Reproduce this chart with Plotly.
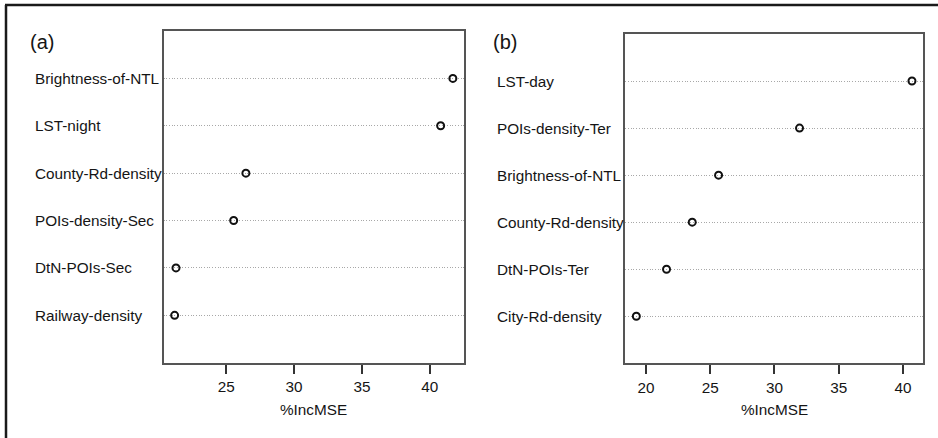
import plotly.graph_objects as go

# Panel (a)
vars_a = ["Brightness-of-NTL", "LST-night", "County-Rd-density",
          "POIs-density-Sec", "DtN-POIs-Sec", "Railway-density"]
vals_a = [41.7, 40.8, 26.45, 25.55, 21.3, 21.2]
ticks_a = [25, 30, 35, 40]

# Panel (b)
vars_b = ["LST-day", "POIs-density-Ter", "Brightness-of-NTL",
          "County-Rd-density", "DtN-POIs-Ter", "City-Rd-density"]
vals_b = [40.7, 31.95, 25.65, 23.6, 21.6, 19.25]
ticks_b = [20, 25, 30, 35, 40]

x_title = "%IncMSE"
panel_labels = ["(a)", "(b)"]

W, H = 938, 438
FONT = "Liberation Sans, Arial, sans-serif"
TXT = "#151515"
FS = 15.3

def px(x):
    return x / W

def py(y):
    return 1 - y / H

fig = go.Figure()

panels = [
    dict(vars=vars_a, vals=vals_a, ticks=ticks_a, xa="x", ya="y",
         dom_x=[px(163.5), px(464)], dom_y=[py(362.7), py(31)],
         label_x=px(32.5), tag_x=px(27.5)),
    dict(vars=vars_b, vals=vals_b, ticks=ticks_b, xa="x2", ya="y2",
         dom_x=[px(625.3), px(923)], dom_y=[py(363.3), py(34)],
         label_x=px(495), tag_x=px(491)),
]

annotations = []
for i, p in enumerate(panels):
    n = len(p["vars"])
    ypos = [n - k for k in range(n)]  # first item at top
    vmin, vmax = min(p["vals"]), max(p["vals"])
    pad = 0.04 * (vmax - vmin)
    fig.add_trace(go.Scatter(
        x=p["vals"], y=ypos, mode="markers",
        marker=dict(symbol="circle-open", size=7, color="#111111",
                    line=dict(width=2, color="#111111")),
        xaxis=p["xa"], yaxis=p["ya"], showlegend=False,
        hoverinfo="x+text", text=p["vars"],
    ))
    suffix = "" if i == 0 else str(i + 1)
    fig.update_layout(**{
        "xaxis" + suffix: dict(
            domain=p["dom_x"], anchor=p["ya"], range=[vmin - pad, vmax + pad],
            tickvals=p["ticks"], ticks="outside", ticklen=9, tickwidth=2,
            tickcolor="#333333", showgrid=False, zeroline=False,
            showline=True, linecolor="#555555", linewidth=2, mirror=True,
            tickfont=dict(family=FONT, size=FS, color=TXT),
        ),
        "yaxis" + suffix: dict(
            domain=p["dom_y"], anchor=p["xa"], range=[0, n + 1],
            tickvals=ypos, showticklabels=False, ticks="",
            showgrid=True, gridcolor="#a8a8a8", griddash="1px,1.7px",
            gridwidth=1,
            zeroline=False, showline=True, linecolor="#555555", linewidth=2,
            mirror=True,
        ),
    })
    for name, yv in zip(p["vars"], ypos):
        annotations.append(dict(
            text=name, x=p["label_x"], xref="paper", y=yv, yref=p["ya"],
            xanchor="left", yanchor="middle", showarrow=False,
            font=dict(family=FONT, size=FS, color=TXT),
        ))
    annotations.append(dict(
        text=x_title, x=(p["dom_x"][0] + p["dom_x"][1]) / 2, xref="paper",
        y=py(409), yref="paper", xanchor="center", yanchor="middle",
        showarrow=False, font=dict(family=FONT, size=FS, color=TXT),
    ))
    annotations.append(dict(
        text=panel_labels[i], x=p["tag_x"], xref="paper", y=py(42),
        yref="paper", xanchor="left", yanchor="middle", showarrow=False,
        font=dict(family=FONT, size=20, color=TXT),
    ))

shapes = [
    dict(type="line", xref="paper", yref="paper", x0=px(5), x1=1,
         y0=py(5), y1=py(5), line=dict(color="#1a1a1a", width=2.5)),
    dict(type="line", xref="paper", yref="paper", x0=px(6), x1=px(6),
         y0=py(5), y1=0, line=dict(color="#1a1a1a", width=2.5)),
]

fig.update_layout(
    width=W, height=H, margin=dict(l=0, r=0, t=0, b=0),
    paper_bgcolor="white", plot_bgcolor="white",
    annotations=annotations, shapes=shapes,
    font=dict(family=FONT, color=TXT),
)

fig.write_html(
    "out.html",
    config={"displayModeBar": False},
    post_script="document.body.style.margin='0';document.body.style.overflow='hidden';",
)
